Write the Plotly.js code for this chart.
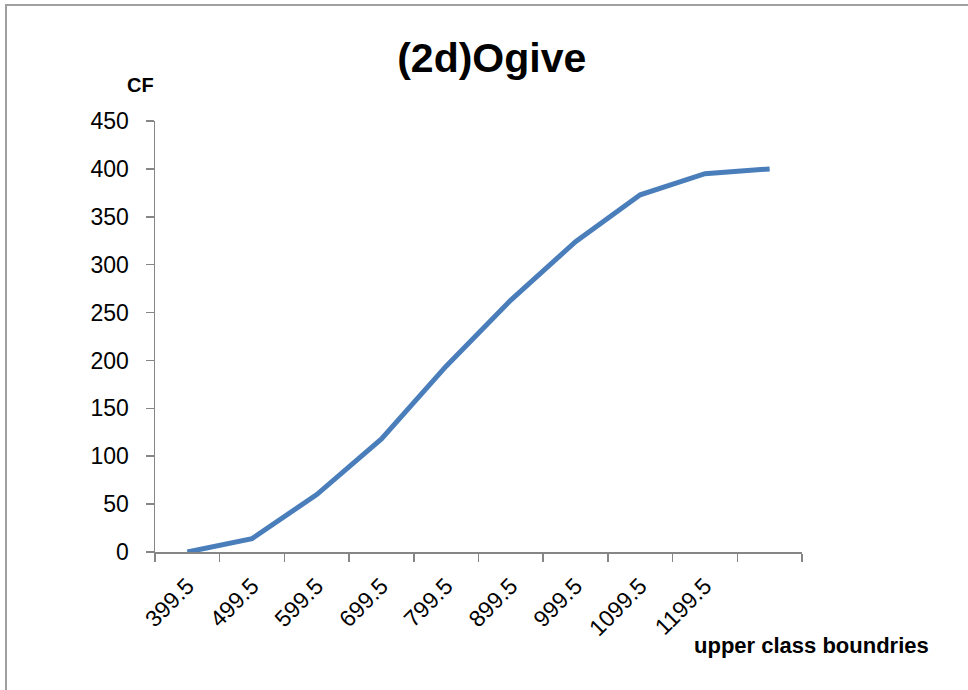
<!DOCTYPE html>
<html>
<head>
<meta charset="utf-8">
<script src="https://cdn.plot.ly/plotly-3.0.1.min.js"></script>
<style>
  html, body { margin: 0; padding: 0; background: #ffffff; }
  #wrap { position: relative; width: 968px; height: 690px; overflow: hidden; }
  #frame { position: absolute; left: 5px; top: 4px; width: 980px; height: 700px;
           border: 2px solid #a0a0a0; box-sizing: border-box; pointer-events: none; }
  #chart { position: absolute; left: 0; top: 0; width: 968px; height: 690px; }
</style>
</head>
<body>
<div id="wrap">
  <div id="chart"></div>
  <div id="frame"></div>
</div>
<script>
// Upper class boundaries (tick labels); the last category has no label
const boundaryLabels = ["399.5", "499.5", "599.5", "699.5", "799.5", "899.5", "999.5", "1099.5", "1199.5", ""];
// Cumulative frequency values
const cumulativeFreq = [0, 14, 60, 118, 194, 263, 324, 373, 395, 400];

const titleText = "(2d)Ogive";
const yTitleText = "CF";
const xTitleText = "upper class boundries";

const xIdx = cumulativeFreq.map((_, i) => i);

const trace = {
  type: "scatter",
  mode: "lines",
  x: xIdx,
  y: cumulativeFreq,
  line: { color: "#4a7ebb", width: 5 },
  hoverinfo: "skip",
  showlegend: false
};

const FONT = "Liberation Sans, Arial, sans-serif";

const layout = {
  width: 968,
  height: 690,
  margin: { l: 155, r: 166, t: 121, b: 138 },
  paper_bgcolor: "rgba(0,0,0,0)",
  plot_bgcolor: "#ffffff",
  font: { family: FONT, color: "#000000", size: 22 },
  title: {
    text: "<b>" + titleText + "</b>",
    font: { family: FONT, size: 41, color: "#000000" },
    x: 0.508, xanchor: "center",
    y: 0.917, yanchor: "middle"
  },
  xaxis: {
    range: [-0.5, cumulativeFreq.length - 0.5],
    tickmode: "array",
    tickvals: xIdx,
    ticktext: boundaryLabels,
    tickangle: -45,
    ticks: "",
    ticklen: 0,
    ticklabelstandoff: 10,
    tickfont: { family: FONT, size: 23, color: "#000000" },
    minor: { tickmode: "linear", tick0: -0.5, dtick: 1, ticks: "outside", ticklen: 8, tickwidth: 1.5, tickcolor: "#868686", showgrid: false },
    showline: true, linecolor: "#868686", linewidth: 1.5,
    showgrid: false, zeroline: false, fixedrange: true
  },
  yaxis: {
    range: [0, 450],
    tickmode: "linear", tick0: 0, dtick: 50,
    ticks: "outside", ticklen: 8, tickwidth: 1.5, tickcolor: "#868686",
    ticklabelstandoff: 12,
    tickfont: { family: FONT, size: 23, color: "#000000" },
    showline: true, linecolor: "#868686", linewidth: 1.5,
    showgrid: false, zeroline: false, fixedrange: true
  },
  annotations: [
    {
      text: "<b>" + yTitleText + "</b>",
      xref: "paper", yref: "paper",
      x: (140 - 155) / 647, y: (552 - 85) / 431,
      xanchor: "center", yanchor: "middle",
      showarrow: false,
      font: { family: FONT, size: 20, color: "#000000" }
    },
    {
      text: "<b>" + xTitleText + "</b>",
      xref: "paper", yref: "paper",
      x: (811 - 155) / 647, y: (552 - 645) / 431,
      xanchor: "center", yanchor: "middle",
      showarrow: false,
      font: { family: FONT, size: 22, color: "#000000" }
    }
  ]
};

Plotly.newPlot("chart", [trace], layout, { displayModeBar: false, staticPlot: true });
</script>
</body>
</html>
